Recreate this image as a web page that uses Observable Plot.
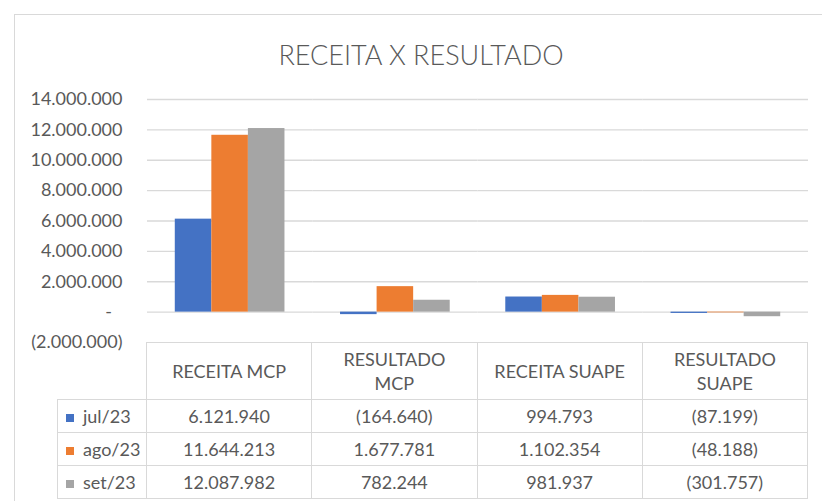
<!DOCTYPE html>
<html>
<head>
<meta charset="utf-8">
<script src="https://cdn.jsdelivr.net/npm/d3@7"></script>
<script src="https://cdn.jsdelivr.net/npm/@observablehq/plot@0.6"></script>
<style>
  html, body { margin: 0; padding: 0; background: #fff; }
  #wrap { position: relative; width: 822px; height: 501px; overflow: hidden; font-family: Lato, "Open Sans", sans-serif; color: #595959; }
  #frame { position: absolute; left: 14px; top: 14px; width: 900px; height: 600px; border: 1px solid #d9d9d9; box-sizing: border-box; }
  #title { position: absolute; left: 14px; width: 814px; top: 38px; text-align: center; font-size: 27px; font-weight: 300; color: #595959; }
  #chart { position: absolute; left: 0; top: 90px; }
  #table { position: absolute; left: 57px; top: 342px; border-collapse: collapse; table-layout: fixed; font-size: 18px; color: #595959; }
  #table td { border: 1px solid #d9d9d9; text-align: center; padding: 0; }
  #table td.corner { border-top: none; border-left: none; }
  #table tr.head td { height: 56px; }
  #table tr.row td { height: 32px; }
  #table td.lab { text-align: left; padding-left: 8px; }
  .sw { display: inline-block; width: 8px; height: 8px; margin-right: 9px; vertical-align: 1px; }
  .hd { display: inline-block; max-width: 136px; line-height: 24px; }
</style>
</head>
<body>
<div id="wrap">
  <div id="frame"></div>
  <div id="title"></div>
  <div id="chart"></div>
  <table id="table"></table>
</div>
<script>
const title = "RECEITA X RESULTADO";
const categories = ["RECEITA MCP", "RESULTADO MCP", "RECEITA SUAPE", "RESULTADO SUAPE"];
const months = ["jul/23", "ago/23", "set/23"];
const colors = ["#4472C4", "#ED7D31", "#A5A5A5"];
const jul23 = [6121940, -164640, 994793, -87199];
const ago23 = [11644213, 1677781, 1102354, -48188];
const set23 = [12087982, 782244, 981937, -301757];
const yTicks = [-2000000, 0, 2000000, 4000000, 6000000, 8000000, 10000000, 12000000, 14000000];

const series = [jul23, ago23, set23];
const data = [];
months.forEach((m, i) => categories.forEach((c, j) => data.push({category: c, month: m, value: series[i][j]})));

const loc = d3.formatLocale({decimal: ",", thousands: ".", grouping: [3], currency: ["", ""]});
const fmt = loc.format("(,.0f");
const tickFmt = d => d === 0 ? "-\u2007" : fmt(d);

document.getElementById("title").textContent = title;

const chart = Plot.plot({
  width: 822,
  height: 262,
  marginLeft: 147,
  marginRight: 14,
  marginTop: 9,
  marginBottom: 10,
  style: {fontFamily: "Lato, 'Open Sans', sans-serif", fontSize: "18px", color: "#595959", background: "transparent", overflow: "visible"},
  fx: {domain: categories, padding: 0, axis: null, label: null, round: false},
  x: {domain: months, paddingInner: 0, paddingOuter: 0.76, axis: null, round: false},
  y: {domain: [-2000000, 14000000], ticks: yTicks, tickSize: 0, tickPadding: 25, tickFormat: tickFmt, label: null},
  color: {domain: months, range: colors},
  marks: [
    Plot.ruleY(yTicks.filter(d => d >= 0), {stroke: "#d9d9d9", strokeWidth: 1.4}),
    Plot.barY(data, {fx: "category", x: "month", y: "value", fill: "month"})
  ]
});
document.getElementById("chart").appendChild(chart);

// data table
const table = document.getElementById("table");
const colgroup = document.createElement("colgroup");
[89].concat(categories.map(() => 165.25)).forEach(w => {
  const col = document.createElement("col");
  col.style.width = w + "px";
  colgroup.appendChild(col);
});
table.appendChild(colgroup);
const head = document.createElement("tr");
head.className = "head";
const corner = document.createElement("td");
corner.className = "corner";
head.appendChild(corner);
categories.forEach(c => {
  const td = document.createElement("td");
  const s = document.createElement("span");
  s.className = "hd";
  s.textContent = c;
  td.appendChild(s);
  head.appendChild(td);
});
table.appendChild(head);
months.forEach((m, i) => {
  const tr = document.createElement("tr");
  tr.className = "row";
  const lab = document.createElement("td");
  lab.className = "lab";
  const sw = document.createElement("span");
  sw.className = "sw";
  sw.style.background = colors[i];
  lab.appendChild(sw);
  lab.appendChild(document.createTextNode(m));
  tr.appendChild(lab);
  series[i].forEach(v => {
    const td = document.createElement("td");
    td.textContent = fmt(v);
    tr.appendChild(td);
  });
  table.appendChild(tr);
});
</script>
</body>
</html>
